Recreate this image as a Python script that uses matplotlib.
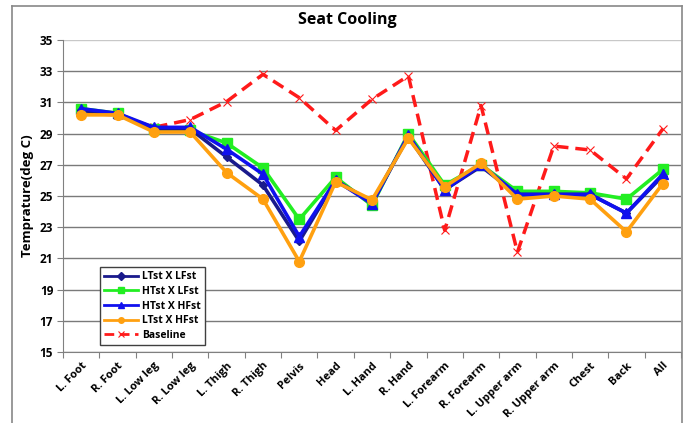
import matplotlib
matplotlib.use("Agg")
import matplotlib.pyplot as plt
from matplotlib.lines import Line2D

categories = ["L. Foot", "R. Foot", "L. Low leg", "R. Low leg", "L. Thigh", "R. Thigh",
              "Pelvis", "Head", "L. Hand", "R. Hand", "L. Forearm", "R. Forearm",
              "L. Upper arm", "R. Upper arm", "Chest", "Back", "All"]

ltst_lfst = [30.5, 30.2, 29.3, 29.3, 27.5, 25.7, 22.1, 26.0, 24.6, 28.8, 25.4, 26.9, 25.1, 25.1, 25.1, 23.9, 26.3]
htst_lfst = [30.6, 30.3, 29.3, 29.2, 28.4, 26.8, 23.5, 26.2, 24.4, 29.0, 25.7, 27.0, 25.3, 25.3, 25.2, 24.8, 26.7]
htst_hfst = [30.6, 30.3, 29.4, 29.4, 28.0, 26.4, 22.4, 26.0, 24.5, 28.9, 25.4, 27.0, 25.1, 25.1, 25.1, 23.9, 26.4]
ltst_hfst = [30.2, 30.2, 29.1, 29.1, 26.5, 24.8, 20.8, 25.9, 24.75, 28.7, 25.6, 27.1, 24.8, 25.0, 24.8, 22.7, 25.8]
baseline  = [30.3, 30.2, 29.4, 29.9, 31.05, 32.8, 31.3, 29.2, 31.2, 32.7, 22.8, 30.8, 21.4, 28.2, 27.95, 26.1, 29.3]

yticks = [15, 17, 19, 21, 23, 25, 27, 29, 31, 33, 35]

FONT = ["Open Sans", "DejaVu Sans"]
plt.rcParams['font.family'] = FONT

W, H = 687, 423
fig = plt.figure(figsize=(W/100, H/100), dpi=100)
ax = fig.add_axes([63/W, 1-352/H, (681-63)/W, (352-40)/H])

x = list(range(len(categories)))
ax.plot(x, ltst_lfst, color="#1a1a8c", lw=2.6, marker="D", ms=4, label="LTst X LFst", zorder=5)
ax.plot(x, htst_lfst, color="#22ee22", lw=2.6, marker="s", ms=6.5, label="HTst X LFst", zorder=4)
ax.plot(x, htst_hfst, color="#1010ee", lw=2.6, marker="^", ms=6.5, label="HTst X HFst", zorder=6)
ax.plot(x, ltst_hfst, color="#ffa010", lw=2.6, marker="o", ms=7, label="LTst X HFst", zorder=7)
ax.plot(x, baseline, color="#ff1a1a", lw=2.5, ls=(0, (3.5, 2)), marker="x", ms=6,
        mew=0.8, label="Baseline", zorder=3)

ax.set_xlim(-0.5, len(categories) - 0.5)
ax.set_ylim(15, 35)
ax.set_yticks(yticks)
ax.set_yticklabels([str(v) for v in yticks], fontsize=8.5, fontweight="bold")
ax.set_xticks([i - 0.5 for i in range(len(categories) + 1)], minor=False)
ax.set_xticklabels([])
ax.set_xticks(x, minor=True)
ax.set_xticklabels(categories, minor=True, rotation=45, ha="right", va="top",
                   rotation_mode="anchor", fontsize=8, fontweight="bold")
ax.tick_params(axis="x", which="minor", length=0, pad=6)
ax.tick_params(axis="x", which="major", length=4, direction="out", color="#808080")
ax.tick_params(axis="y", length=4, direction="out", color="#808080", pad=3)

ax.grid(axis="y", color="#7a7a7a", lw=1.0)
ax.set_axisbelow(True)
for s in ["top", "right"]:
    ax.spines[s].set_visible(False)
ax.spines["left"].set_color("#808080")
ax.spines["bottom"].set_color("#808080")
ax.yaxis.get_gridlines()[-1].set_color("#c8c8c8")

ax.set_ylabel("Temprature(deg C)", fontsize=9.5, fontweight="bold", labelpad=4)
fig.text(347/W, 1-20/H, "Seat Cooling", ha="center", va="center", fontsize=11.5, fontweight="bold")

leg = ax.legend(loc="lower left", bbox_to_anchor=(0.06, 0.022), borderaxespad=0,
                fancybox=False, framealpha=1, edgecolor="#404040",
                prop={"size": 7.5, "weight": "bold"}, handlelength=3.2,
                labelspacing=0.35, borderpad=0.4, handletextpad=0.4)
leg.get_frame().set_linewidth(1.0)
for h in leg.legend_handles:
    h.set_linewidth(2.0)
    h.set_markersize(4)

# outer chart border
c = "#888888"
fig.add_artist(Line2D([12/W, 12/W], [0, 1-6/H], color=c, lw=1.2, transform=fig.transFigure))
fig.add_artist(Line2D([12/W, 682/W], [1-6/H, 1-6/H], color=c, lw=1.2, transform=fig.transFigure))
fig.add_artist(Line2D([682/W, 682/W], [0, 1-6/H], color=c, lw=1.2, transform=fig.transFigure))

fig.savefig("out.png", dpi=100)
